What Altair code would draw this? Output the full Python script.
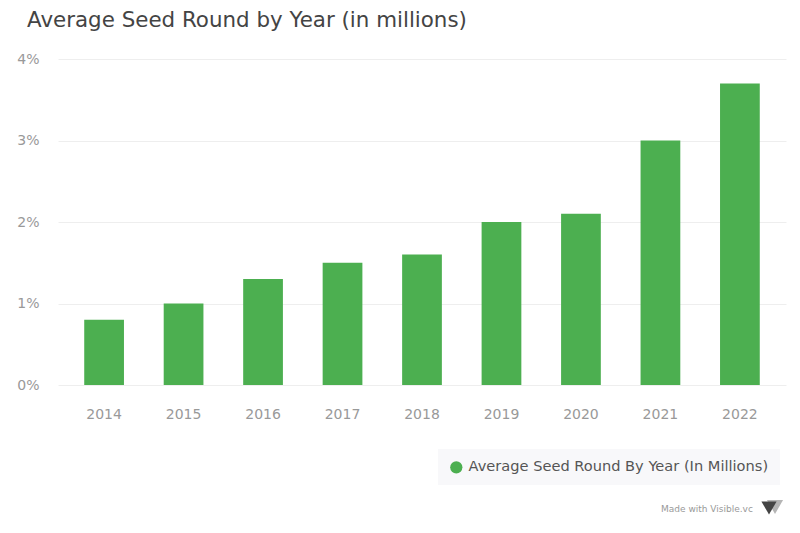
import altair as alt
import pandas as pd

years = ["2014", "2015", "2016", "2017", "2018", "2019", "2020", "2021", "2022"]
values = [0.8, 1.0, 1.3, 1.5, 1.6, 2.0, 2.1, 3.0, 3.7]
series_name = "Average Seed Round By Year (In Millions)"
y_ticks = [0, 1, 2, 3, 4]

df = pd.DataFrame({"year": years, "value": values, "series": [series_name] * len(years)})

FONT = "DejaVu Sans"

bars = alt.Chart(df).mark_bar(color="#4caf50").encode(
    x=alt.X("year:N", sort=years, title=None,
            scale=alt.Scale(paddingInner=0.5, paddingOuter=0.33),
            axis=alt.Axis(labelAngle=0, ticks=False, domain=False, grid=False, labelPadding=22,
                          labelFontSize=14, labelColor="#999999", labelFont=FONT)),
    y=alt.Y("value:Q", title=None,
            scale=alt.Scale(domain=[0, 4], nice=False),
            axis=alt.Axis(values=y_ticks, labelExpr="datum.value + '%'", ticks=False,
                          domain=False, labelPadding=19, labelFontSize=14,
                          labelColor="#999999", labelFont=FONT,
                          gridColor="#eeeeee", gridWidth=1)),
    color=alt.Color("series:N", title=None,
                    scale=alt.Scale(range=["#4caf50"]),
                    legend=alt.Legend(orient="none", legendX=380, legendY=390,
                                      fillColor="#f8f8fa", padding=11,
                                      symbolType="circle", symbolSize=150,
                                      symbolStrokeWidth=0,
                                      labelFontSize=14.6, labelColor="#555555",
                                      labelFont=FONT, labelLimit=400, labelOffset=5)),
)

credit = alt.Chart(pd.DataFrame({"t": ["Made with Visible.vc"]})).mark_text(
    align="left", baseline="middle", fontSize=9, color="#999999", font=FONT
).encode(text="t:N", x=alt.value(603), y=alt.value(450))

logo_back = alt.Chart(pd.DataFrame({"t": ["a"]})).mark_point(
    shape="triangle-down", filled=True, color="#b5b5b5", size=260, opacity=1
).encode(x=alt.value(717), y=alt.value(448))

logo_front = alt.Chart(pd.DataFrame({"t": ["a"]})).mark_point(
    shape="triangle-down", filled=True, color="#444444", size=230, opacity=1
).encode(x=alt.value(711), y=alt.value(449))

chart = alt.layer(bars, credit, logo_back, logo_front).properties(
    width=728, height=326,
    autosize=alt.AutoSizeParams(type="none"),
    padding={"left": 50, "top": 51, "right": 6, "bottom": 140},
    title=alt.TitleParams("Average Seed Round by Year (in millions)", anchor="start",
                          frame="group", dx=-31, offset=21, fontSize=21.4,
                          fontWeight="normal", color="#444444", font=FONT),
).configure(font=FONT).configure_view(stroke="transparent", strokeWidth=0)

chart.save("out.html", embed_options={"renderer": "svg", "actions": False})
